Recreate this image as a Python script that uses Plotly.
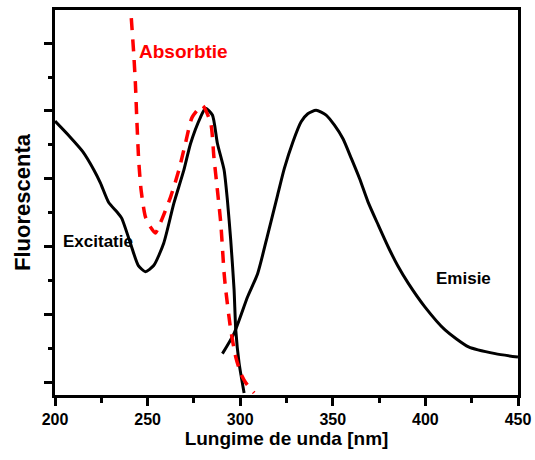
import plotly.graph_objects as go

# Excitation spectrum (black, left)
exc_x = [200, 208, 215, 221, 224.5, 229, 233.5, 236, 240.7, 245, 248.8, 253.3, 258.7, 264.2,
         269.6, 273.2, 278.6, 281.3, 285, 287.7, 291.3, 293.1, 294.9, 296.7, 297.6, 299.4, 302.1]
exc_y = [3.85, 3.62, 3.40, 3.13, 2.94, 2.65, 2.51, 2.42, 2.05, 1.72, 1.63, 1.72, 2.05, 2.64,
         3.13, 3.52, 3.91, 4.04, 3.94, 3.52, 3.13, 2.68, 2.09, 1.36, 0.77, 0.28, -0.16]

# Absorption spectrum (red dashed)
abs_x = [241.2, 242.5, 243.4, 244.2, 245.2, 246.5, 248.8, 251.5, 254.2, 256.9, 262.4, 266.9, 270.5,
         274.1, 279.6, 284.1, 285.8, 287.7, 289.5, 291.3, 292.2, 294.9, 297.6, 300.3, 303.0, 307.5]
abs_y = [5.37, 4.85, 4.41, 3.86, 3.27, 2.83, 2.44, 2.29, 2.20, 2.35, 2.73, 3.13, 3.53,
         3.91, 4.08, 3.82, 3.32, 2.83, 2.35, 1.61, 1.36, 0.77, 0.37, 0.13, -0.01, -0.16]

# Emission spectrum (black, right)
emi_x = [290.4, 296.7, 304.0, 309.4, 314.8, 320.2, 323.8, 328.4, 332.9, 336.5, 341.0, 346.4, 350.9,
         355.5, 360.0, 364.5, 369.0, 374.5, 380.0, 385.0, 390.7, 399.7, 410.6, 423.3, 437.7, 450.0]
emi_y = [0.42, 0.72, 1.26, 1.60, 2.17, 2.76, 3.15, 3.54, 3.84, 3.96, 4.01, 3.94, 3.79,
         3.59, 3.30, 3.00, 2.66, 2.32, 1.99, 1.72, 1.46, 1.11, 0.77, 0.52, 0.42, 0.37]

x_ticks = [200, 250, 300, 350, 400, 450]
y_ticks = [0, 1, 2, 3, 4, 5]

FONT = "Liberation Sans, Arial, sans-serif"

fig = go.Figure()
fig.add_trace(go.Scatter(x=exc_x, y=exc_y, mode="lines",
                         line=dict(color="black", width=3, shape="spline", smoothing=0.6),
                         showlegend=False))
fig.add_trace(go.Scatter(x=emi_x, y=emi_y, mode="lines",
                         line=dict(color="black", width=3, shape="spline", smoothing=0.6),
                         showlegend=False))
fig.add_trace(go.Scatter(x=abs_x, y=abs_y, mode="lines",
                         line=dict(color="#ff0000", width=3.5, dash="12px,9px",
                                   shape="spline", smoothing=0.6),
                         showlegend=False))

fig.add_annotation(x=244.5, y=4.88, text="<b>Absorbtie</b>", showarrow=False, xanchor="left",
                   yanchor="middle", font=dict(family=FONT, size=19, color="#ff0000"))
fig.add_annotation(x=203.3, y=2.08, text="<b>Excitatie</b>", showarrow=False, xanchor="left",
                   yanchor="middle", font=dict(family=FONT, size=17, color="black"))
fig.add_annotation(x=404.4, y=1.53, text="<b>Emisie</b>", showarrow=False, xanchor="left",
                   yanchor="middle", font=dict(family=FONT, size=17, color="black"))

fig.update_layout(
    width=535, height=460,
    margin=dict(l=55, r=17, t=10, b=65, autoexpand=False),
    paper_bgcolor="white", plot_bgcolor="white",
    font=dict(family=FONT, color="black"),
)
fig.update_xaxes(range=[200, 450], tickvals=x_ticks, ticktext=["<b>%d</b>" % v for v in x_ticks],
                 automargin=False,
                 showgrid=False, zeroline=False,
                 showline=True, linecolor="black", linewidth=3, mirror=True,
                 ticks="outside", ticklen=8, tickwidth=3, tickcolor="black",
                 minor=dict(dtick=25, ticks="outside", ticklen=5, tickwidth=3, tickcolor="black"),
                 tickfont=dict(family=FONT, size=16, color="black"),
                 title=dict(text="<b>Lungime de unda [nm]</b>",
                            font=dict(family=FONT, size=19, color="black"), standoff=4))
fig.update_yaxes(range=[-0.19, 5.49], tickvals=y_ticks, showticklabels=False,
                 automargin=False,
                 showgrid=False, zeroline=False,
                 showline=True, linecolor="black", linewidth=3, mirror=True,
                 ticks="outside", ticklen=8, tickwidth=3, tickcolor="black",
                 minor=dict(dtick=0.5, tick0=0, ticks="outside", ticklen=4, tickwidth=3, tickcolor="black"),
                 title=dict(text="<b>Fluorescenta</b>",
                            font=dict(family=FONT, size=22, color="black"), standoff=8))

fig.write_html("out.html")
